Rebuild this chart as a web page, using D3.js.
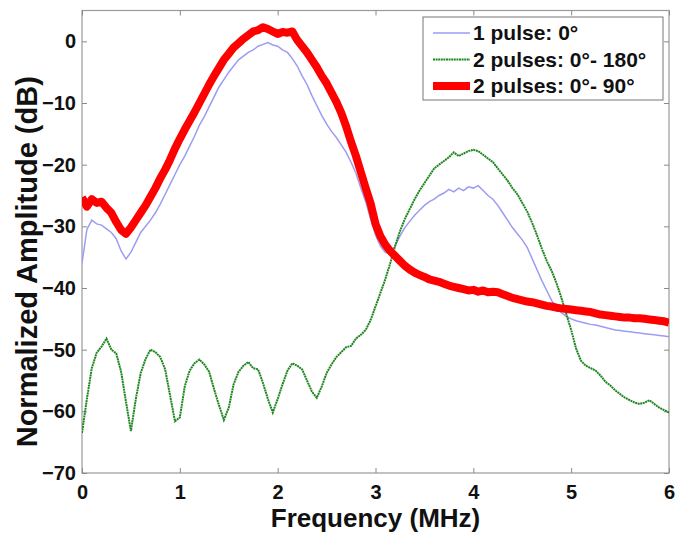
<!DOCTYPE html>
<html>
<head>
<meta charset="utf-8">
<script src="https://cdn.jsdelivr.net/npm/d3@7/dist/d3.min.js"></script>
<style>
  body { margin: 0; background: #fff; }
  text { font-family: "Liberation Sans", Arial, sans-serif; font-weight: bold; fill: #111; }
</style>
</head>
<body>
<div id="chart"></div>
<script>
// frequency grid (MHz)
var freq = [0,0.05,0.1,0.15,0.2,0.25,0.3,0.35,0.4,0.45,0.5,0.55,0.6,0.65,0.7,0.75,0.8,0.85,0.9,0.95,
  1,1.05,1.1,1.15,1.2,1.25,1.3,1.35,1.4,1.45,1.5,1.55,1.6,1.65,1.7,1.75,1.8,1.85,1.9,1.95,
  2,2.05,2.1,2.15,2.2,2.25,2.3,2.35,2.4,2.45,2.5,2.55,2.6,2.65,2.7,2.75,2.8,2.85,2.9,2.95,
  3,3.05,3.1,3.15,3.2,3.25,3.3,3.35,3.4,3.45,3.5,3.55,3.6,3.65,3.7,3.75,3.8,3.85,3.9,3.95,
  4,4.05,4.1,4.15,4.2,4.25,4.3,4.35,4.4,4.45,4.5,4.55,4.6,4.65,4.7,4.75,4.8,4.85,4.9,4.95,
  5,5.05,5.1,5.15,5.2,5.25,5.3,5.35,5.4,5.45,5.5,5.55,5.6,5.65,5.7,5.75,5.8,5.85,5.9,5.95,6];

// 1 pulse: 0deg
var onePulse = [-36.0,-30.5,-29.0,-29.6,-29.8,-30.4,-31.0,-32.0,-34.0,-35.3,-34.2,-32.6,-31.0,-30.0,-29.0,-27.8,-26.4,-24.8,-23.2,-21.6,
  -20.0,-18.6,-17.0,-15.4,-13.6,-12.2,-10.6,-9.0,-7.4,-6.2,-5.0,-4.0,-3.0,-2.4,-1.8,-1.4,-0.8,-0.5,-0.2,-0.6,
  -0.8,-1.4,-1.8,-2.8,-4.0,-5.6,-7.0,-8.8,-10.4,-12.0,-13.4,-14.6,-15.6,-16.8,-18.0,-19.6,-21.4,-23.8,-26.0,-28.8,
  -31.4,-33.2,-34.2,-34.4,-33.2,-31.6,-30.2,-29.2,-28.2,-27.4,-26.6,-26.0,-25.6,-25.0,-24.6,-24.0,-24.4,-23.8,-24.2,-23.6,
  -23.8,-23.4,-24.2,-25.0,-25.6,-26.6,-27.8,-29.0,-30.2,-31.2,-32.2,-33.4,-35.2,-37.0,-38.8,-40.4,-42.0,-43.2,-44.0,-44.6,
  -45.0,-45.3,-45.5,-45.7,-45.9,-46.0,-46.2,-46.4,-46.6,-46.8,-46.9,-47.0,-47.1,-47.2,-47.3,-47.4,-47.5,-47.6,-47.7,-47.8,-47.9];

// 2 pulses: 0deg - 180deg
var twoPulses180 = [-63.5,-58.0,-53.0,-50.5,-49.5,-48.2,-50.0,-50.6,-53.6,-58.5,-63.2,-58.0,-53.8,-51.5,-50.0,-50.4,-51.2,-53.2,-57.4,-61.6,
  -61.0,-56.0,-53.4,-52.2,-51.6,-52.4,-53.6,-56.4,-59.0,-61.4,-59.4,-55.6,-53.6,-52.6,-52.0,-53.0,-53.2,-55.4,-58.0,-60.2,
  -58.0,-55.6,-53.4,-52.2,-52.6,-53.2,-55.0,-56.8,-57.8,-56.0,-53.8,-52.4,-51.2,-50.4,-49.6,-49.4,-48.2,-47.6,-46.8,-45.2,
  -43.0,-40.8,-38.6,-36.0,-33.2,-30.8,-28.8,-27.2,-25.6,-24.2,-23.0,-21.8,-20.6,-20.0,-19.4,-18.8,-18.0,-18.6,-18.2,-17.8,
  -17.6,-17.8,-18.4,-19.0,-19.6,-20.6,-21.6,-22.6,-23.8,-24.8,-26.2,-27.6,-29.4,-31.4,-33.6,-35.6,-37.2,-39.2,-41.6,-44.2,
  -46.8,-49.8,-51.8,-52.6,-53.0,-53.4,-54.2,-55.2,-55.8,-56.6,-57.2,-57.8,-58.2,-58.6,-58.8,-58.6,-58.2,-58.8,-59.4,-59.8,-60.2];

// 2 pulses: 0deg - 90deg
var twoPulses90 = [-25.3,-26.8,-25.6,-26.2,-26.0,-27.0,-27.8,-29.3,-30.6,-31.2,-30.2,-29.0,-27.8,-26.6,-25.2,-23.8,-22.2,-20.8,-19.2,-17.4,
  -15.8,-14.3,-12.9,-11.5,-10.0,-8.5,-7.0,-5.6,-4.3,-3.0,-2.0,-1.0,-0.3,0.4,1.0,1.6,1.8,2.3,2.0,1.6,
  1.2,1.5,1.4,1.6,0.2,-0.8,-1.8,-3.0,-4.2,-5.6,-6.8,-8.3,-9.8,-11.6,-13.8,-16.3,-18.6,-21.2,-23.8,-26.3,
  -29.6,-31.6,-33.0,-34.0,-34.8,-35.6,-36.4,-37.0,-37.5,-37.9,-38.2,-38.6,-38.8,-39.0,-39.3,-39.6,-39.8,-40.0,-40.2,-40.4,
  -40.3,-40.6,-40.4,-40.7,-40.6,-40.7,-41.0,-41.3,-41.6,-41.8,-42.0,-42.2,-42.3,-42.5,-42.7,-42.9,-43.0,-43.2,-43.3,-43.4,
  -43.5,-43.6,-43.7,-43.8,-43.9,-44.1,-44.3,-44.4,-44.5,-44.6,-44.7,-44.8,-44.8,-44.9,-44.9,-45.0,-45.1,-45.2,-45.3,-45.4,-45.6];

var xTicks = [0,1,2,3,4,5,6];
var yTicks = [0,-10,-20,-30,-40,-50,-60,-70];
var seriesNames = ["1 pulse: 0\u00b0", "2 pulses: 0\u00b0- 180\u00b0", "2 pulses: 0\u00b0- 90\u00b0"];

var W = 675, H = 534;
var margin = {top: 10.5, right: 6, bottom: 61, left: 82};
var width = W - margin.left - margin.right,
    height = H - margin.top - margin.bottom;

var svg = d3.select("#chart").append("svg")
    .attr("width", W)
    .attr("height", H);

var g = svg.append("g")
    .attr("transform", "translate(" + margin.left + "," + margin.top + ")");

var x = d3.scaleLinear().domain([0, 6]).range([0, width]);
var y = d3.scaleLinear().domain([-70, 5]).range([height, 0]);

// box
g.append("rect")
  .attr("width", width).attr("height", height)
  .attr("fill", "#fff").attr("stroke", "#9a9a9a").attr("stroke-width", 1.2);

// axes, ticks inside like matlab
var xAxis = g.append("g").attr("transform", "translate(0," + height + ")")
  .call(d3.axisBottom(x).tickValues(xTicks).tickSizeInner(-5).tickSizeOuter(0).tickPadding(12).tickFormat(d3.format("d")));
var xAxisTop = g.append("g")
  .call(d3.axisTop(x).tickValues(xTicks).tickSizeInner(-5).tickSizeOuter(0).tickFormat(""));
var yAxis = g.append("g")
  .call(d3.axisLeft(y).tickValues(yTicks).tickSizeInner(-5).tickSizeOuter(0).tickPadding(6).tickFormat(d3.format("d")));
var yAxisRight = g.append("g").attr("transform", "translate(" + width + ",0)")
  .call(d3.axisRight(y).tickValues(yTicks).tickSizeInner(-5).tickSizeOuter(0).tickFormat(""));

[xAxis, xAxisTop, yAxis, yAxisRight].forEach(function(a){
  a.select(".domain").remove();
  a.selectAll(".tick line").attr("stroke", "#8a8a8a");
  a.selectAll("text").style("font-size", "20px").style("font-family", "Liberation Sans, Arial, sans-serif")
    .style("font-weight", "bold").attr("fill", "#111");
});

// lines
var clip = g.append("clipPath").attr("id", "clip").append("rect").attr("width", width).attr("height", height);

function lineFor(vals) {
  return d3.line()
    .x(function(d, i) { return x(freq[i]); })
    .y(function(d) { return y(d); })(vals);
}

var plot = g.append("g").attr("clip-path", "url(#clip)");

plot.append("path").attr("d", lineFor(onePulse))
  .attr("fill", "none").attr("stroke", "#9c9cf2").attr("stroke-width", 1.5);

plot.append("path").attr("d", lineFor(twoPulses180))
  .attr("fill", "none").attr("stroke", "#1f861f").attr("stroke-width", 2)
  .attr("stroke-dasharray", "2,0.6");

plot.append("path").attr("d", lineFor(twoPulses90))
  .attr("fill", "none").attr("stroke", "#ff0000").attr("stroke-width", 8)
  .attr("stroke-linejoin", "round");

// axis labels
svg.append("text")
  .attr("x", margin.left + width / 2)
  .attr("y", 527)
  .attr("text-anchor", "middle")
  .style("font-size", "26px")
  .text("Frequency (MHz)");

svg.append("text")
  .attr("transform", "translate(37," + (margin.top + height / 2 + 20) + ") rotate(-90)")
  .attr("text-anchor", "middle")
  .style("font-size", "29px")
  .text("Normalized Amplitude (dB)");

// legend
var legend = svg.append("g").attr("transform", "translate(423,17)");
legend.append("rect").attr("width", 240).attr("height", 83)
  .attr("fill", "#fff").attr("stroke", "#777").attr("stroke-width", 1);

var legendStyles = [
  {color: "#9c9cf2", w: 1.5, dash: null},
  {color: "#1f861f", w: 2, dash: "2,0.6"},
  {color: "#ff0000", w: 8, dash: null}
];

seriesNames.forEach(function(name, i) {
  var ly = 16 + i * 26.5;
  legend.append("line").attr("x1", 10).attr("x2", 47).attr("y1", ly).attr("y2", ly)
    .attr("stroke", legendStyles[i].color).attr("stroke-width", legendStyles[i].w)
    .attr("stroke-dasharray", legendStyles[i].dash);
  legend.append("text").attr("x", 50).attr("y", ly + 7)
    .style("font-size", "21px").text(name);
});
</script>
</body>
</html>
